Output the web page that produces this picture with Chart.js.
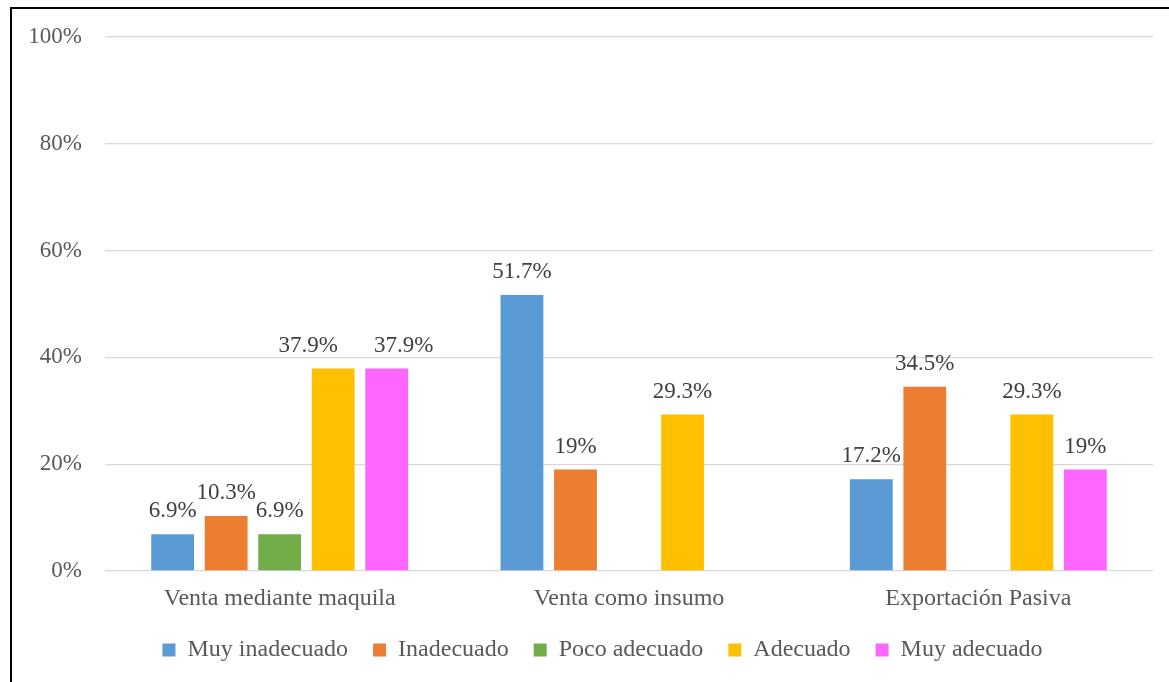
<!DOCTYPE html>
<html>
<head>
<meta charset="utf-8">
<title>Estrategias de venta</title>
<script src="https://cdn.jsdelivr.net/npm/chart.js@4"></script>
<style>
  html, body { margin: 0; padding: 0; background: #fff; overflow: hidden; }
  #frame {
    position: absolute; left: 10px; top: 7px; width: 1180px; height: 690px;
    border-left: 2px solid #000; border-top: 2px solid #000;
  }
  #wrap { position: absolute; left: 0; top: 0; width: 1178px; height: 673px; }
</style>
</head>
<body>
<div id="frame">
  <div id="wrap"><canvas id="chart"></canvas></div>
</div>
<script>
// categories and series (percent)
const categories = ['Venta mediante maquila', 'Venta como insumo', 'Exportación Pasiva'];
const seriesNames = ['Muy inadecuado', 'Inadecuado', 'Poco adecuado', 'Adecuado', 'Muy adecuado'];
const muyInadecuado = [6.9, 51.7, 17.2];
const inadecuado = [10.3, 19, 34.5];
const pocoAdecuado = [6.9, null, null];
const adecuado = [37.9, 29.3, 29.3];
const muyAdecuado = [37.9, null, 19];
const yTicks = [0, 20, 40, 60, 80, 100];

const colors = ['#5B9BD5', '#ED7D31', '#70AD47', '#FFC000', '#FF66FF'];
const values = [muyInadecuado, inadecuado, pocoAdecuado, adecuado, muyAdecuado];

const fontFamily = '"Liberation Serif", "Times New Roman", serif';

// the two 37.9% labels were pulled apart by hand in the original
const labelNudge = { '3-0': -25, '4-0': 17 };

// draws the value on top of each bar
const barLabels = {
    id: 'barLabels',
    afterDatasetsDraw(chart) {
        const ctx = chart.ctx;
        ctx.save();
        ctx.font = '23px ' + fontFamily;
        ctx.fillStyle = '#404040';
        ctx.textAlign = 'center';
        ctx.textBaseline = 'alphabetic';
        chart.data.datasets.forEach((ds, i) => {
            const meta = chart.getDatasetMeta(i);
            meta.data.forEach((bar, j) => {
                const v = ds.data[j];
                if (v === null || v === undefined) return;
                const dx = labelNudge[i + '-' + j] || 0;
                ctx.fillText(v + '%', bar.x + dx, bar.y - 17);
            });
        });
        ctx.restore();
    }
};

// nudge the legend a bit to the right, as in the original
const legendShift = {
    id: 'legendShift',
    afterLayout(chart) {
        if (chart.legend) {
            chart.legend.left += 11;
            chart.legend.right += 11;
        }
    }
};

const ctx = document.getElementById('chart').getContext('2d');
new Chart(ctx, {
    type: 'bar',
    data: {
        labels: categories,
        datasets: seriesNames.map((name, i) => ({
            label: name,
            data: values[i],
            backgroundColor: colors[i],
            borderWidth: 0,
            categoryPercentage: 0.766,
            barPercentage: 0.8
        }))
    },
    options: {
        responsive: true,
        maintainAspectRatio: false,
        animation: false,
        layout: {
            padding: { left: 18, right: 37, top: 28, bottom: 10 }
        },
        plugins: {
            tooltip: { enabled: false },
            legend: {
                position: 'bottom',
                labels: {
                    boxWidth: 13,
                    boxHeight: 13,
                    padding: 25,
                    color: '#595959',
                    font: { family: fontFamily, size: 24 }
                }
            }
        },
        scales: {
            x: {
                grid: { display: false, drawTicks: false },
                border: { display: false },
                ticks: {
                    color: '#595959',
                    padding: 13,
                    font: { family: fontFamily, size: 24 }
                },
                afterFit(axis) { axis.height = 42; }
            },
            y: {
                min: 0,
                max: 100,
                afterBuildTicks(axis) {
                    axis.ticks = yTicks.map(v => ({ value: v }));
                },
                grid: { color: '#D9D9D9', lineWidth: 1.3, drawTicks: false },
                border: { display: false },
                ticks: {
                    color: '#595959',
                    padding: 23,
                    font: { family: fontFamily, size: 23 },
                    callback: v => v + '%'
                },
                afterFit(axis) {
                    axis.width = 75;
                    axis.paddingTop = 0;
                    axis.paddingBottom = 0;
                }
            }
        }
    },
    plugins: [barLabels, legendShift]
});
</script>
</body>
</html>
